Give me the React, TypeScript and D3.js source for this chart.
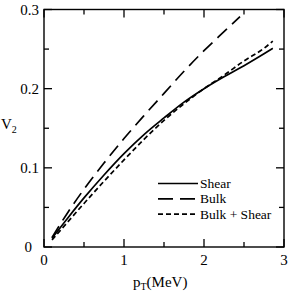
import React from "react";
import * as d3 from "d3";

const pT_shear = [0.1, 0.3, 0.5, 0.75, 1.0, 1.25, 1.5, 1.75, 2.0, 2.25, 2.5, 2.75, 2.86];
const v2_shear = [0.011, 0.037, 0.062, 0.091, 0.118, 0.142, 0.163, 0.183, 0.2, 0.215, 0.229, 0.244, 0.251];

const pT_bulk = [0.1, 0.3, 0.5, 0.75, 1.0, 1.25, 1.5, 1.75, 2.0, 2.25, 2.45];
const v2_bulk = [0.012, 0.044, 0.073, 0.106, 0.137, 0.166, 0.194, 0.222, 0.248, 0.272, 0.291];

const pT_both = [0.1, 0.3, 0.5, 0.75, 1.0, 1.25, 1.5, 1.75, 2.0, 2.25, 2.5, 2.75, 2.86];
const v2_both = [0.009, 0.032, 0.055, 0.083, 0.11, 0.136, 0.16, 0.181, 0.2, 0.217, 0.235, 0.251, 0.26];

const xTickLabels = ["0", "1", "2", "3"];
const yTickLabels = ["0", "0.1", "0.2", "0.3"];
const legendLabels = ["Shear", "Bulk", "Bulk + Shear"];

const W = 289;
const H = 292;
const left = 44;
const right = 284;
const top = 9.5;
const bottom = 247;

export default function App() {
  const x = d3.scaleLinear().domain([0, 3]).range([left, right]);
  const y = d3.scaleLinear().domain([0, 0.3]).range([bottom, top]);
  const line = d3
    .line<[number, number]>()
    .x((d) => x(d[0]))
    .y((d) => y(d[1]))
    .curve(d3.curveMonotoneX);

  const series = [
    { p: pT_shear, v: v2_shear, dash: "none" },
    { p: pT_bulk, v: v2_bulk, dash: "13 7" },
    { p: pT_both, v: v2_both, dash: "5 3" },
  ];

  const xMinor = d3.range(0, 3.01, 0.5);
  const yMinor = d3.range(0, 0.301, 0.05);
  const font = "Liberation Serif, Times New Roman, serif";

  return (
    <svg
      width={W}
      height={H}
      style={{ position: "absolute", left: 0, top: 0, background: "#fff" }}
    >
      <rect x={0} y={0} width={W} height={H} fill="#fff" />
      <rect
        x={left}
        y={top}
        width={right - left}
        height={bottom - top}
        fill="none"
        stroke="#000"
        strokeWidth={1.4}
      />
      {xMinor.map((t, i) => {
        const major = Math.abs(t - Math.round(t)) < 1e-6;
        const len = major ? 8 : 5;
        return (
          <g key={"xt" + i}>
            <line x1={x(t)} x2={x(t)} y1={bottom} y2={bottom - len} stroke="#000" strokeWidth={1.3} />
            <line x1={x(t)} x2={x(t)} y1={top} y2={top + len} stroke="#000" strokeWidth={1.3} />
          </g>
        );
      })}
      {yMinor.map((t, i) => {
        const major = i % 2 === 0;
        const len = major ? 8 : 5;
        return (
          <g key={"yt" + i}>
            <line x1={left} x2={left + len} y1={y(t)} y2={y(t)} stroke="#000" strokeWidth={1.3} />
            <line x1={right} x2={right - len} y1={y(t)} y2={y(t)} stroke="#000" strokeWidth={1.3} />
          </g>
        );
      })}
      {xTickLabels.map((s, i) => (
        <text
          key={"xl" + i}
          x={x(+s)}
          y={265}
          textAnchor="middle"
          fontFamily={font}
          fontSize={15}
        >
          {s}
        </text>
      ))}
      {yTickLabels.map((s, i) => (
        <text
          key={"yl" + i}
          x={s === "0" ? 32 : 39}
          y={y(+s) + 5}
          textAnchor="end"
          fontFamily={font}
          fontSize={15}
        >
          {s}
        </text>
      ))}
      <text x={133} y={287} fontFamily={font} fontSize={15}>
        p<tspan fontSize={10} dy={3}>T</tspan>
        <tspan dy={-3}>(MeV)</tspan>
      </text>
      <text x={1} y={129} fontFamily={font} fontSize={15}>
        V<tspan fontSize={10} dy={4}>2</tspan>
      </text>
      {series.map((s, i) => (
        <path
          key={"s" + i}
          d={line(s.p.map((p, j) => [p, s.v[j]] as [number, number])) || ""}
          fill="none"
          stroke="#000"
          strokeWidth={1.7}
          strokeDasharray={s.dash}
        />
      ))}
      {legendLabels.map((s, i) => {
        const ly = 183.5 + i * 15.3;
        return (
          <g key={"lg" + i}>
            <line
              x1={158}
              x2={198}
              y1={ly}
              y2={ly}
              stroke="#000"
              strokeWidth={1.7}
              strokeDasharray={i === 0 ? "none" : i === 1 ? "15 7" : "5 3"}
            />
            <text x={200} y={ly + 4.5} fontFamily={font} fontSize={13.5}>
              {s}
            </text>
          </g>
        );
      })}
    </svg>
  );
}
